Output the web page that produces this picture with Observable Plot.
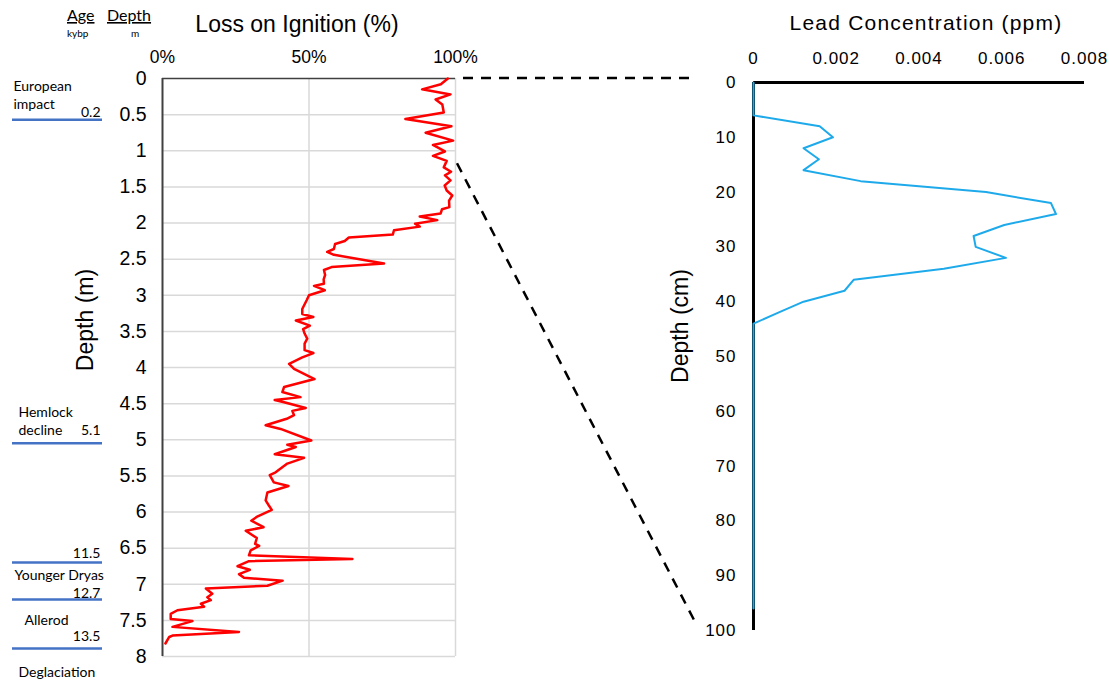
<!DOCTYPE html>
<html><head><meta charset="utf-8">
<script src="https://cdn.jsdelivr.net/npm/d3@7"></script>
<script src="https://cdn.jsdelivr.net/npm/@observablehq/plot@0.6"></script>
<style>
html,body{margin:0;padding:0;background:#fff;}
#wrap{position:relative;width:1109px;height:683px;overflow:hidden;background:#fff;}
#wrap > div, #wrap > svg{position:absolute;top:0;}
#lead svg text{letter-spacing:1px;}
</style></head><body><div id="wrap"><div id="loi"></div><div id="lead"></div></div>
<script>
// ---------- data ----------
const loiDepth = [0.00,0.08,0.15,0.22,0.29,0.36,0.47,0.56,0.66,0.75,0.86,0.92,1.01,1.07,1.14,1.23,1.29,1.34,1.41,1.48,1.55,1.62,1.69,1.78,1.81,1.87,1.91,1.96,2.01,2.05,2.10,2.16,2.20,2.25,2.29,2.36,2.40,2.44,2.56,2.61,2.65,2.72,2.78,2.84,2.87,2.93,3.00,3.07,3.19,3.26,3.30,3.35,3.42,3.47,3.53,3.60,3.67,3.76,3.80,3.86,3.95,4.02,4.16,4.27,4.34,4.41,4.45,4.48,4.56,4.60,4.66,4.71,4.80,4.85,5.01,5.07,5.10,5.20,5.25,5.33,5.45,5.49,5.59,5.64,5.73,5.84,5.91,5.97,6.06,6.12,6.21,6.26,6.36,6.44,6.47,6.53,6.60,6.65,6.68,6.75,6.80,6.86,6.91,6.95,7.02,7.06,7.13,7.18,7.22,7.27,7.31,7.36,7.41,7.48,7.51,7.59,7.66,7.71,7.73,7.82];
const loiPct = [97.4,95.0,88.6,98.3,93.2,95.5,96.0,82.9,98.6,89.8,99.2,92.3,96.4,92.3,97.0,96.0,98.5,96.4,98.3,96.3,97.0,98.9,97.8,97.9,95.4,94.9,87.8,93.8,86.2,87.8,79.0,78.6,63.6,62.2,58.9,58.5,56.2,58.5,75.6,57.7,55.1,55.5,55.0,55.1,51.7,55.4,50.0,49.2,47.7,47.7,51.5,45.5,50.3,48.0,48.5,49.4,48.5,48.5,51.5,47.7,43.2,44.9,51.9,41.5,40.9,47.1,38.3,41.5,48.9,44.3,44.9,42.4,35.2,40.3,50.8,42.6,45.5,38.3,48.3,42.6,38.6,36.6,38.0,43.0,35.8,35.2,36.3,37.3,32.5,30.3,34.5,28.4,32.2,31.6,33.0,30.1,29.5,64.8,29.5,25.6,29.8,26.1,27.8,41.0,35.8,14.8,17.0,15.3,16.5,13.1,14.2,5.1,2.8,2.8,10.2,3.4,26.1,3.4,2.3,1.0];

const leadDepth = [0,2,4,6,8,10,12,14,16,18,20,22,24,26,28,30,32,34,36,38,40,42,44,46,48,50,52,54,56,58,60,62,64,66,68,70,72,74,76,78,80,82,84,86,88,90,92,94,96];
const leadConc = [0,0,0,0,0.0016,0.00192,0.00121,0.00158,0.00121,0.00259,0.00562,0.00719,0.00731,0.00606,0.00532,0.00537,0.0061,0.0046,0.00242,0.0022,0.00121,0.0006,0,0,0,0,0,0,0,0,0,0,0,0,0,0,0,0,0,0,0,0,0,0,0,0,0,0,0];

const loiTicks = [0, 50, 100];
const depthTicksM = [0,0.5,1,1.5,2,2.5,3,3.5,4,4.5,5,5.5,6,6.5,7,7.5,8];
const leadTicks = [0, 0.002, 0.004, 0.006, 0.008];
const depthTicksCm = [0,10,20,30,40,50,60,70,80,90,100];

const boundaryDepth = [0.57, 5.05, 6.70, 7.21, 7.89];
const boundaryAge = ["0.2", "5.1", "11.5", "12.7", "13.5"];
const ageLabelDepth = [0.53, 4.94, 6.64, 7.195, 7.79];
const eventName = ["European", "impact", "Hemlock", "decline", "Younger Dryas", "Allerod", "Deglaciation"];
const eventNameDepth = [0.17, 0.42, 4.69, 4.94, 6.94, 7.57, 8.29];

// connector lines: LOI depth (m) -> lead depth (cm)
const connectorLoiDepth = [0, 1.18];
const connectorLeadDepth = [-0.8, 98.5];

// ---------- build ----------
const FONT = "'Liberation Sans', Arial, Helvetica, sans-serif";
const NOTE = "Lato, 'Open Sans', sans-serif";

const loiData = loiDepth.map((d, i) => ({depth: d, loi: loiPct[i]}));
const leadData = leadDepth.map((d, i) => ({depth: d, conc: leadConc[i]}));
const ages = boundaryAge.map((a, i) => ({age: a, depth: boundaryDepth[i], labelDepth: ageLabelDepth[i]}));
const names = eventName.map((n, i) => ({name: n, depth: eventNameDepth[i]}));
const indent = {"European": -149, "impact": -149, "Hemlock": -144, "decline": -144, "Younger Dryas": -148, "Allerod": -138, "Deglaciation": -144};
const indentGroups = d3.groups(names, d => indent[d.name]);

const loiPlot = Plot.plot({
  width: 470, height: 683,
  marginTop: 78, marginBottom: 27, marginLeft: 162, marginRight: 15,
  style: {fontFamily: FONT, background: "transparent", overflow: "visible", color: "#000"},
  x: {domain: [0, 100]},
  y: {domain: [0, 8], reverse: true},
  marks: [
    Plot.gridX([50, 100], {stroke: "#d9d9d9", strokeOpacity: 1, strokeWidth: 1.5}),
    Plot.gridY(depthTicksM.filter(d => d > 0), {stroke: "#d9d9d9", strokeOpacity: 1, strokeWidth: 1.5}),
    Plot.ruleX([0], {stroke: "#404040", strokeWidth: 2}),
    Plot.ruleY([0], {stroke: "#404040", strokeWidth: 1.5}),
    Plot.axisX({anchor: "top", ticks: loiTicks, tickFormat: d => d + "%", tickSize: 0, tickPadding: 16, fontSize: 17.5, label: null}),
    Plot.axisY({ticks: depthTicksM, tickFormat: d => String(d), tickSize: 0, tickPadding: 16, fontSize: 19.5, label: null}),
    Plot.line(loiData, {x: "loi", y: "depth", stroke: "#ff0000", strokeWidth: 2.5}),
    Plot.ruleY(ages, {y: "depth", stroke: "#4472c4", strokeWidth: 2.5, insetLeft: -150, insetRight: 353}),
    Plot.text(ages, {y: "labelDepth", text: "age", frameAnchor: "left", textAnchor: "end", lineAnchor: "bottom", dx: -62, fontSize: 14, fontFamily: NOTE, fill: "#000"}),
    ...indentGroups.map(([dx, g]) => Plot.text(g, {y: "depth", text: "name", frameAnchor: "left", textAnchor: "start", lineAnchor: "bottom", dx, fontSize: 14, fontFamily: NOTE, fill: "#000"}))
  ]
});
document.getElementById("loi").appendChild(loiPlot);
document.getElementById("loi").style.left = "0px";

const LEAD_LEFT = 620;
const leadPlot = Plot.plot({
  width: 489, height: 683,
  marginTop: 82, marginBottom: 53, marginLeft: 133, marginRight: 25,
  style: {fontFamily: FONT, background: "transparent", overflow: "visible", color: "#000"},
  x: {domain: [0, 0.008]},
  y: {domain: [0, 100], reverse: true},
  marks: [
    Plot.axisX({anchor: "top", ticks: leadTicks, tickFormat: d => d === 0 ? "0" : d.toFixed(3), tickSize: 0, tickPadding: 19, fontSize: 17, label: null}),
    Plot.axisY({ticks: depthTicksCm, tickFormat: d => String(d), tickSize: 0, tickPadding: 17, fontSize: 17, label: null}),
    Plot.ruleX([0], {stroke: "#000", strokeWidth: 3}),
    Plot.ruleY([0], {stroke: "#000", strokeWidth: 3}),
    Plot.line(leadData, {x: "conc", y: "depth", stroke: "#1eaaea", strokeWidth: 2})
  ]
});
document.getElementById("lead").appendChild(leadPlot);
document.getElementById("lead").style.left = LEAD_LEFT + "px";

// ---------- overlay: titles, headers, connectors ----------
const sx1 = loiPlot.scale("x"), sy1 = loiPlot.scale("y");
const sx2 = leadPlot.scale("x"), sy2 = leadPlot.scale("y");
const svg = d3.select("#wrap").append("svg")
  .attr("width", 1109).attr("height", 683)
  .style("left", "0px").style("pointer-events", "none");

const conn = connectorLoiDepth.map((d, i) => {
  const xa = sx1.apply(100), ya = sy1.apply(d);
  const xb = LEAD_LEFT + sx2.apply(0) - 58;
  const yb = i === 0 ? ya : sy2.apply(connectorLeadDepth[i]);
  return i === 0 ? [xa + 8, ya, xb, yb] : [xa + 2, ya, xb, yb];
});
svg.selectAll("line.conn").data(conn).join("line")
  .attr("x1", d => d[0]).attr("y1", d => d[1]).attr("x2", d => d[2]).attr("y2", d => d[3])
  .attr("stroke", "#000").attr("stroke-width", 2.5).attr("stroke-dasharray", "10,8");

function txt(t, x, y, o = {}) {
  const e = svg.append("text").attr("x", x).attr("y", y).text(t)
    .attr("font-family", o.family || FONT).attr("font-size", o.size || 14)
    .attr("text-anchor", o.anchor || "start").attr("fill", "#000");
  if (o.ls) e.attr("letter-spacing", o.ls);
  if (o.rot) e.attr("transform", `rotate(-90 ${x} ${y})`);
  if (o.under) e.style("text-decoration", "underline");
  return e;
}
txt("Loss on Ignition (%)", 297, 32, {size: 23, anchor: "middle"});
txt("Lead Concentration (ppm)", 926, 30, {size: 21, anchor: "middle", ls: "1.2px"});
txt("Depth (m)", 93, 320, {size: 23, anchor: "middle", rot: true});
txt("Depth (cm)", 688, 326, {size: 23, anchor: "middle", rot: true});
txt("Age", 67, 21, {size: 16, family: NOTE, under: true});
txt("kybp", 67, 37, {size: 10, family: NOTE});
txt("Depth", 107, 21, {size: 16, family: NOTE, under: true});
txt("m", 131, 37, {size: 10, family: NOTE});
</script></body></html>
